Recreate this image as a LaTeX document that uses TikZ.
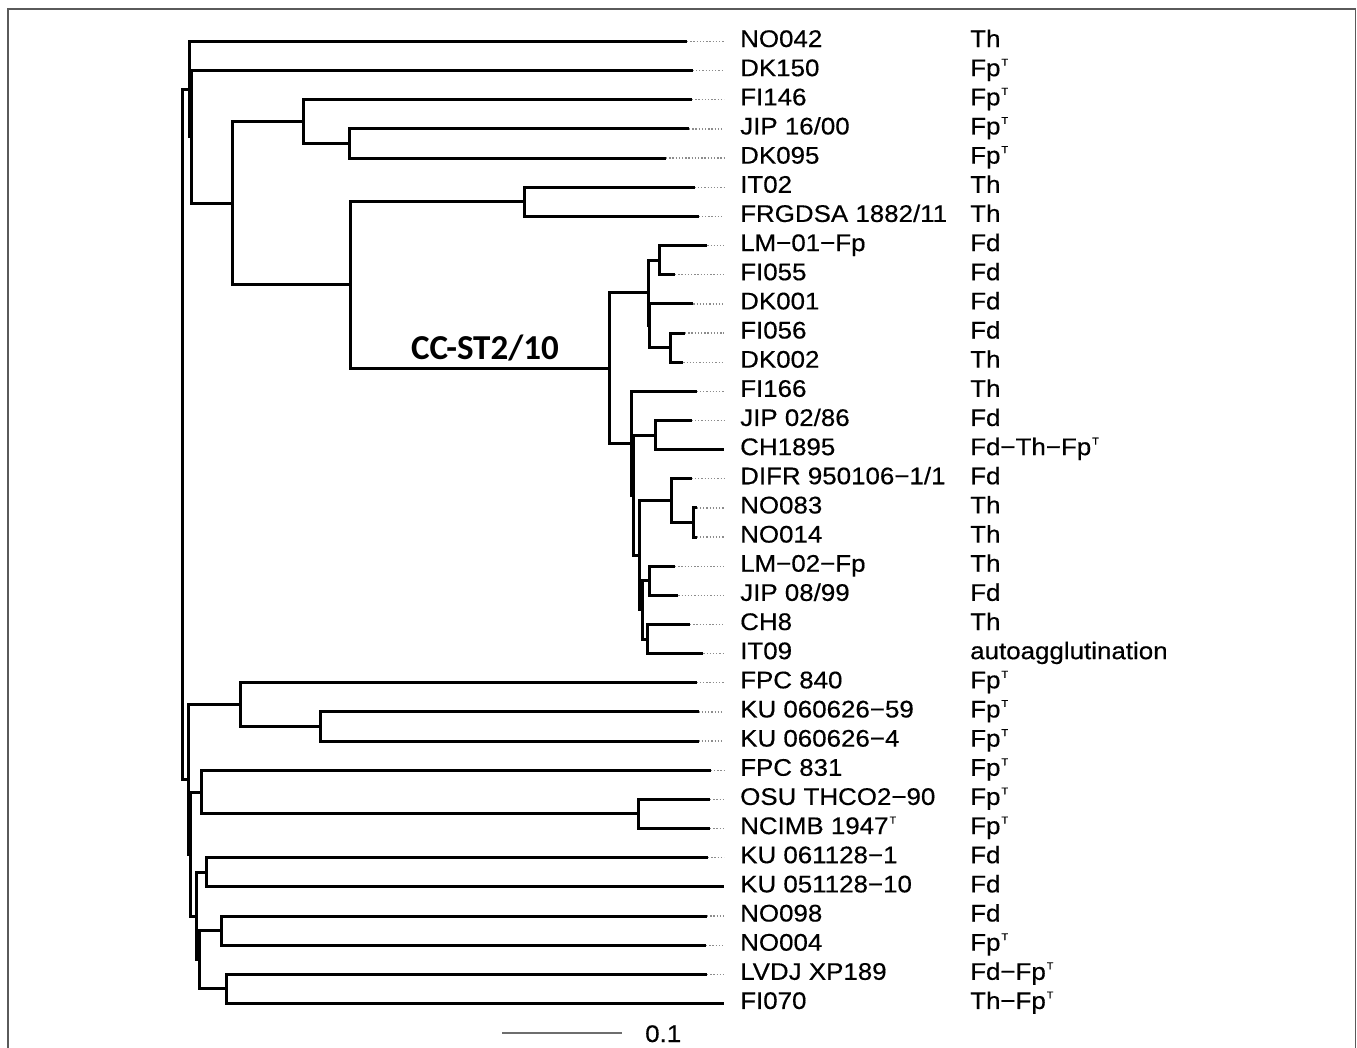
\documentclass[tikz,border=0pt]{standalone}
\usepackage{fontspec}
\setmainfont{Liberation Sans}[FakeStretch=1.08, FakeBold=0.4]
\newfontfamily\cladefont{Carlito}
\usetikzlibrary{calc}
\definecolor{framegray}{HTML}{5A5A5A}
\definecolor{dotgray}{HTML}{8C8C8C}
\definecolor{bargray}{HTML}{6E6E6E}
\tikzset{
  br/.style={draw=black, line width=3pt, line join=miter},
  leader/.style={draw=dotgray, line width=1.3pt, dash pattern=on 1.3pt off 1.9pt},
  lab/.style={anchor=base west, inner sep=0pt, font=\fontsize{24}{28}\selectfont},
  clab/.style={anchor=base, inner sep=0pt, font=\cladefont\bfseries\fontsize{35}{40}\selectfont},
  sbar/.style={draw=bargray, line width=2pt},
  boxline/.style={draw=framegray, line width=1.5pt},
}
\newcommand{\typT}{\kern1pt\raisebox{10.5pt}{\fontsize{10}{10}\selectfont T}}
\newcommand{\clade}[4]{%
  \path ($(#3)!.5!(#4)$) coordinate (#1m);
  \coordinate (#1) at (#2,0 |- #1m);
  \draw[br] (#1) |- (#3);
  \draw[br] (#1) |- (#4);
}

\begin{document}
\begin{tikzpicture}[x=1pt, y=-1pt]
  \useasboundingbox (0,0) rectangle (1357,1047);
  \draw[boxline] (8,1050) |- (1355.5,9) -- (1355.5,1050);
  \foreach \i/\xe/\nm/\ds in {
      0/687/NO042/Th, 1/692.7/DK150/Fp\typT, 2/692/FI146/Fp\typT,
      3/689/{JIP 16/00}/Fp\typT, 4/666/DK095/Fp\typT, 5/694.7/IT02/Th,
      6/698.6/{FRGDSA 1882/11}/Th, 7/707.3/LM−01−Fp/Fd, 8/675/FI055/Fd,
      9/693.3/DK001/Fd, 10/685/FI056/Fd, 11/683.3/DK002/Th,
      12/696.7/FI166/Th, 13/691.7/{JIP 02/86}/Fd, 14/724/CH1895/Fd−Th−Fp\typT,
      15/691.7/{DIFR 950106−1/1}/Fd, 16/696.7/NO083/Th, 17/696.7/NO014/Th,
      18/675/LM−02−Fp/Th, 19/678.3/{JIP 08/99}/Fd, 20/690/CH8/Th,
      21/703.3/IT09/autoagglutination, 22/696.6/FPC 840/Fp\typT,
      23/698.5/KU 060626−59/Fp\typT, 24/698.5/KU 060626−4/Fp\typT,
      25/710.8/FPC 831/Fp\typT, 26/710/OSU THCO2−90/Fp\typT,
      27/710/NCIMB 1947\typT/Fp\typT, 28/708/KU 061128−1/Fd,
      29/724/KU 051128−10/Fd, 30/707/NO098/Fd, 31/706/NO004/Fp\typT,
      32/707/LVDJ XP189/Fd−Fp\typT, 33/724/FI070/Th−Fp\typT}{
    \coordinate (l\i) at (\xe,{41.5+29.15*\i});
    \coordinate (e\i) at (724,{41.5+29.15*\i});
    \node[lab] (s\i) at (740,{47+29.15*\i}) {\nm};
    \node[lab] (d\i) at (970,{47+29.15*\i}) {\ds};
    \draw[leader] (l\i) -- (e\i);
  }
  \clade{n7}{349.5}{l3}{l4}
  \clade{n4}{303.4}{l2}{n7}
  \clade{n6}{524}{l5}{l6}
  \clade{nc}{659}{l7}{l8}
  \clade{nd}{670}{l10}{l11}
  \clade{nd0}{649.5}{l9}{nd}
  \clade{na}{648.3}{nc}{nd0}
  \clade{nf}{655}{l13}{l14}
  \clade{ni}{693.3}{l16}{l17}
  \clade{nh}{671.7}{l15}{ni}
  \clade{nk}{649}{l18}{l19}
  \clade{nq}{647.3}{l20}{l21}
  \clade{nv}{642.7}{nk}{nq}
  \clade{ng}{639.3}{nh}{nv}
  \clade{ne}{633.5}{nf}{ng}
  \clade{nb}{631.7}{l12}{ne}
  \clade{cc}{609}{na}{nb}
  \clade{n5}{350}{n6}{cc}
  \clade{n3}{232.5}{n4}{n5}
  \clade{n2}{191.7}{l1}{n3}
  \clade{n1}{189}{l0}{n2}
  \clade{q2}{320}{l23}{l24}
  \clade{q1}{240}{l22}{q2}
  \clade{q4}{638}{l26}{l27}
  \clade{q3}{201}{l25}{q4}
  \clade{q5}{206.8}{l28}{l29}
  \clade{q6}{221}{l30}{l31}
  \clade{q7}{226.7}{l32}{l33}
  \clade{q8}{199.5}{q6}{q7}
  \clade{q9}{196}{q5}{q8}
  \clade{lo2}{190.5}{q3}{q9}
  \clade{lo1}{188.4}{q1}{lo2}
  \clade{root}{182.6}{n1}{lo1}
  \node[clab] (cct) at (485,359) {CC-ST2/10};
  \coordinate (sb0) at (502,1033);
  \coordinate (sb1) at (622,1033);
  \draw[sbar] (sb0) -- (sb1);
  \node[lab] (sbt) at (645,1042) {0.1};
\end{tikzpicture}
\end{document}
